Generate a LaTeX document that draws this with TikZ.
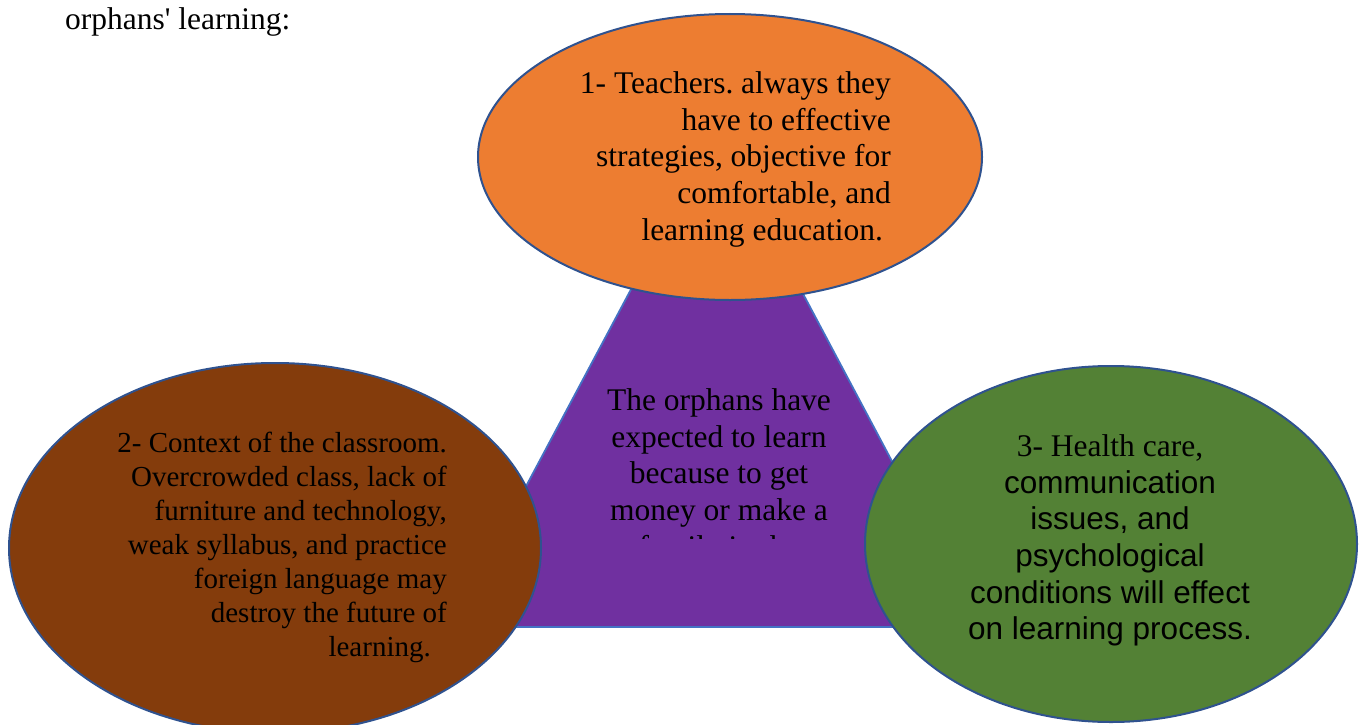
\documentclass[tikz,border=0pt]{standalone}
\usepackage{fontspec}
\setmainfont{Liberation Serif}
\setsansfont{Liberation Sans}
\usetikzlibrary{shapes.geometric}
\frenchspacing
\definecolor{orangeF}{HTML}{ED7D31}
\definecolor{brownF}{HTML}{843C0C}
\definecolor{purpleF}{HTML}{7030A0}
\definecolor{greenF}{HTML}{538135}
\definecolor{edgeB}{HTML}{2F528F}
\definecolor{edgeT}{HTML}{4472C4}
\begin{document}
\begin{tikzpicture}[x=1pt,y=-1pt,
  bubble/.style={ellipse, draw=edgeB, line width=2pt, inner sep=0pt},
  lbl/.style={inner sep=0pt, text=black},
  bigfont/.style={font=\frenchspacing\fontsize{31.5}{36.6}\selectfont},
  midfont/.style={font=\frenchspacing\fontsize{29}{34}\selectfont}]
\useasboundingbox (0,0) rectangle (1362,725);
% title
\node[lbl, bigfont, anchor=base west] (title) at (65,30) {orphans\textquotesingle\ learning:};
% triangle
\filldraw[fill=purpleF, draw=edgeT, line width=1.8pt] (716,130) -- (980,627) -- (451,627) -- cycle;
\begin{scope}
  \clip (451,130) rectangle (980,538);
  \node[lbl, bigfont, align=center, anchor=north] (ctext) at (719,385.5)
    {\rule{0pt}{25pt}The orphans have\\expected to learn\\because to get\\money or make a\\family in the};
\end{scope}
% top ellipse
\node[bubble, fill=orangeF, minimum width=504pt, minimum height=286pt] (e1) at (730,157) {};
\node[lbl, bigfont, align=right, anchor=north east] (t1) at (891,68.5)
  {\rule{0pt}{25pt}1- Teachers. always they\\have to effective\\strategies, objective for\\comfortable, and\\learning education.\kern7.9pt};
% left ellipse
\node[bubble, fill=brownF, minimum width=532pt, minimum height=370pt] (e2) at (275,548) {};
\node[lbl, midfont, align=right, anchor=north east] (t2) at (447,429.5)
  {\rule{0pt}{23pt}2- Context of the classroom.\\Overcrowded class, lack of\\furniture and technology,\\weak syllabus, and practice\\foreign language may\\destroy the future of\\learning.\kern16pt};
% right ellipse
\node[bubble, fill=greenF, minimum width=492pt, minimum height=356pt] (e3) at (1111,544) {};
\node[lbl, bigfont, align=center, anchor=north] (t3) at (1110,431.5)
  {\rule{0pt}{25pt}3- Health care,\\\sffamily communication\\\sffamily issues, and\\\sffamily psychological\\\sffamily conditions will effect\\\sffamily on learning process.};
\end{tikzpicture}
\end{document}
